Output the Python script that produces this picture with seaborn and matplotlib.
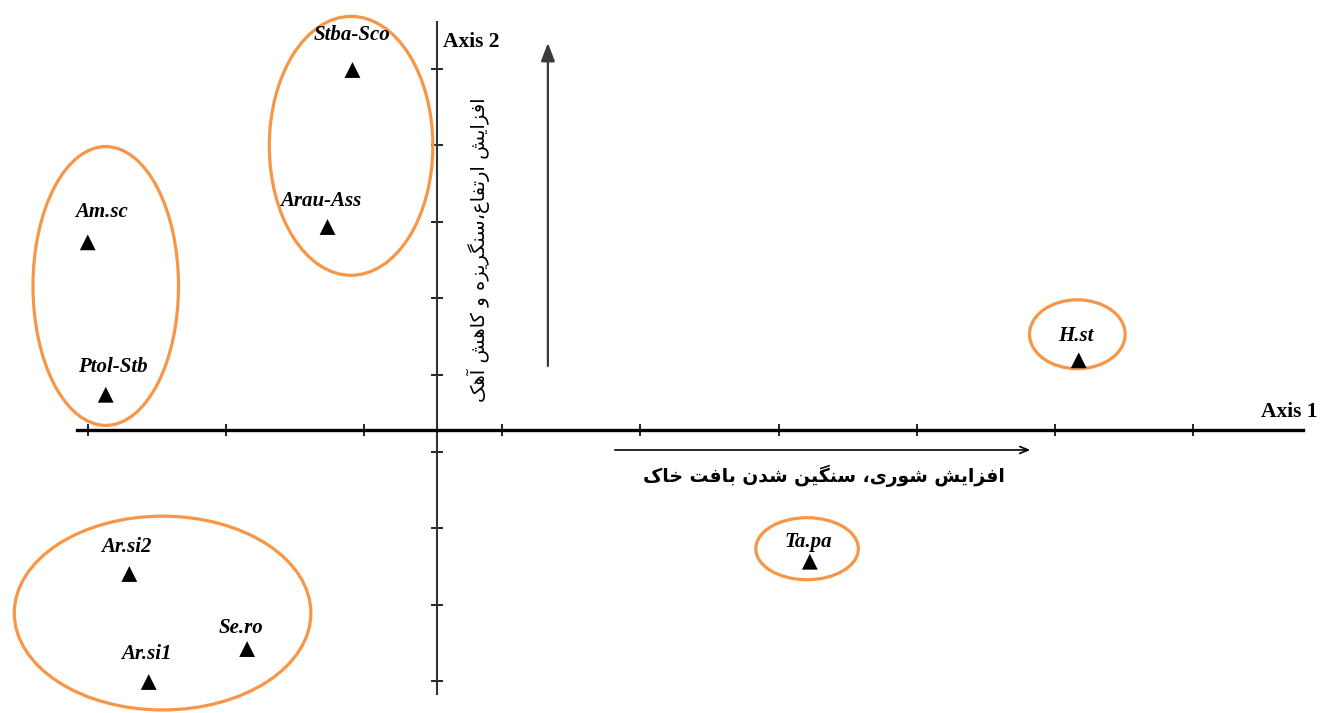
import numpy as np
import pandas as pd
import matplotlib
matplotlib.use("Agg")
import matplotlib.pyplot as plt
from matplotlib.patches import Ellipse
import seaborn as sns

# Site scores on the first two ordination axes
species = ["Stba-Sco", "Arau-Ass", "Am.sc", "Ptol-Stb", "H.st",
           "Ta.pa", "Ar.si2", "Se.ro", "Ar.si1"]
axis1 = [-0.61, -0.79, -2.52, -2.39, 4.63, 2.69, -2.22, -1.37, -2.08]
axis2 = [4.70, 2.65, 2.45, 0.46, 0.91, -1.72, -1.88, -2.86, -3.29]

# Label offsets (pixels) relative to each marker
label_offsets = [(0, 35), (-7, 26), (14, 30), (7, 28), (-3, 24),
                 (-2, 20), (-3, 27), (-6, 21), (-2, 28)]

# Group outlines: (centre x, centre y, width, height) in axis units
groups = [(-0.62, 3.71, 1.18, 3.38),
          (-2.39, 1.88, 1.05, 3.64),
          (-1.98, -2.39, 2.14, 2.53),
          (4.62, 1.25, 0.69, 0.90),
          (2.67, -1.55, 0.74, 0.81)]

x_ticks = -2.52 + np.arange(9) * 0.997
y_ticks = 0.718 + np.arange(-4, 5) * 1.0

# Persian direction labels
text_h = "افزایش شوری، سنگین شدن بافت خاک"
text_v = "افزایش ارتفاع،سنگریزه و کاهش آهک"

FORMS = {
    "\u0622": ("\uFE81", "\uFE82", None, None),
    "\u0627": ("\uFE8D", "\uFE8E", None, None),
    "\u0628": ("\uFE8F", "\uFE90", "\uFE91", "\uFE92"),
    "\u062A": ("\uFE95", "\uFE96", "\uFE97", "\uFE98"),
    "\u062E": ("\uFEA5", "\uFEA6", "\uFEA7", "\uFEA8"),
    "\u062F": ("\uFEA9", "\uFEAA", None, None),
    "\u0631": ("\uFEAD", "\uFEAE", None, None),
    "\u0632": ("\uFEAF", "\uFEB0", None, None),
    "\u0633": ("\uFEB1", "\uFEB2", "\uFEB3", "\uFEB4"),
    "\u0634": ("\uFEB5", "\uFEB6", "\uFEB7", "\uFEB8"),
    "\u0639": ("\uFEC9", "\uFECA", "\uFECB", "\uFECC"),
    "\u0641": ("\uFED1", "\uFED2", "\uFED3", "\uFED4"),
    "\u0642": ("\uFED5", "\uFED6", "\uFED7", "\uFED8"),
    "\u0646": ("\uFEE5", "\uFEE6", "\uFEE7", "\uFEE8"),
    "\u0647": ("\uFEE9", "\uFEEA", "\uFEEB", "\uFEEC"),
    "\u0648": ("\uFEED", "\uFEEE", None, None),
    "\u06A9": ("\uFB8E", "\uFB8F", "\uFB90", "\uFB91"),
    "\u06AF": ("\uFB92", "\uFB93", "\uFB94", "\uFB95"),
    "\u06CC": ("\uFBFC", "\uFBFD", "\uFBFE", "\uFBFF"),
}


def shape_rtl(text):
    """Join Persian letters into contextual forms and order them for display."""
    out = []
    n = len(text)
    for i, ch in enumerate(text):
        f = FORMS.get(ch)
        if f is None:
            out.append(ch)
            continue
        prev = text[i - 1] if i > 0 else ""
        nxt = text[i + 1] if i < n - 1 else ""
        join_prev = prev in FORMS and FORMS[prev][2] is not None
        join_next = nxt in FORMS and f[2] is not None
        if join_prev and join_next:
            out.append(f[3])
        elif join_prev:
            out.append(f[1])
        elif join_next:
            out.append(f[2])
        else:
            out.append(f[0])
    return "".join(reversed(out))


sns.set_style("white")
plt.rcParams["font.family"] = ["DejaVu Sans"]
plt.rcParams["text.color"] = "black"

df = pd.DataFrame({"species": species, "axis1": axis1, "axis2": axis2})

fig = plt.figure(figsize=(13.21, 7.13), dpi=100)
ax = fig.add_axes([0, 0, 1, 1])
ax.set_xlim(-3.153, 6.378)
ax.set_ylim(-3.695, 5.614)

orange = "#F79646"
for cx, cy, w, h in groups:
    ax.add_patch(Ellipse((cx, cy), w, h, fill=False, edgecolor=orange,
                         linewidth=2.3, zorder=2))

sns.scatterplot(data=df, x="axis1", y="axis2", marker="^", color="black",
                s=130, edgecolor="none", legend=False, ax=ax, zorder=3)

for name, x, y, (dx, dy) in zip(species, axis1, axis2, label_offsets):
    ax.annotate(name, (x, y), xytext=(dx, dy), textcoords="offset pixels",
                ha="center", va="center", fontsize=15,
                family="Liberation Serif", weight="bold", style="italic",
                color="black", zorder=4)

# Axes crossing at the origin
for side in ["top", "right"]:
    ax.spines[side].set_visible(False)
ax.spines["bottom"].set_position(("data", 0))
ax.spines["left"].set_position(("data", 0))
ax.spines["bottom"].set_bounds(-2.60, 6.25)
ax.spines["left"].set_bounds(-3.45, 5.33)
ax.spines["bottom"].set_linewidth(2.4)
ax.spines["bottom"].set_color("black")
ax.spines["left"].set_linewidth(1.5)
ax.spines["left"].set_color("#333333")
ax.set_xticks(x_ticks)
ax.set_yticks(y_ticks)
ax.set_xticklabels([])
ax.set_yticklabels([])
ax.tick_params(axis="both", which="major", direction="inout", length=8,
               width=1.2, color="black", bottom=True, left=True,
               top=False, right=False)
ax.set_xlabel("")
ax.set_ylabel("")

ax.text(0.045, 5.065, "Axis 2", ha="left", va="center", fontsize=15.5,
        family="Liberation Serif", weight="bold", color="black")
ax.text(6.35, 0.235, "Axis 1", ha="right", va="center", fontsize=15.5,
        family="Liberation Serif", weight="bold", color="black")

# Gradient arrows with their Persian captions
ax.annotate("", xy=(0.80, 5.09), xytext=(0.80, 0.80),
            arrowprops=dict(arrowstyle="-|>,head_length=1.1,head_width=0.42",
                            color="#3a3a3a", lw=1.6))
ax.annotate("", xy=(4.30, -0.261), xytext=(1.263, -0.261),
            arrowprops=dict(arrowstyle="->,head_length=0.6,head_width=0.25",
                            color="black", lw=1.2))

ax.text(2.79, -0.60, shape_rtl(text_h), ha="center", va="center",
        fontsize=13.5, weight="bold", family="DejaVu Sans", color="black")
ax.text(0.30, 2.35, shape_rtl(text_v), ha="center", va="center",
        fontsize=14, rotation=90, family="DejaVu Sans", color="black")

fig.savefig("out.png", dpi=100, facecolor="white")
